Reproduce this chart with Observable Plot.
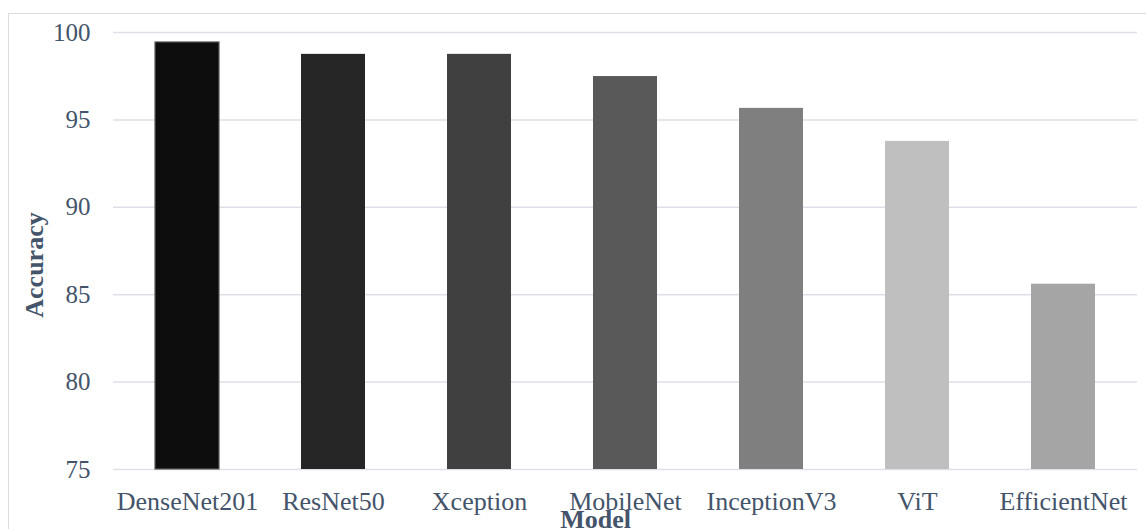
<!DOCTYPE html>
<html>
<head>
<meta charset="utf-8">
<script src="https://cdn.jsdelivr.net/npm/d3@7"></script>
<script src="https://cdn.jsdelivr.net/npm/@observablehq/plot@0.6"></script>
<style>
  html, body { margin: 0; padding: 0; background: #fff; overflow: hidden; }
  #wrap { position: relative; width: 1146px; height: 529px; }
  #border { position: absolute; left: 8px; top: 13px; width: 1200px; height: 600px; border: 1px solid #dcdcdc; box-sizing: border-box; }
  #chart { position: absolute; left: 0; top: 0; }
</style>
</head>
<body>
<div id="wrap"><div id="border"></div><div id="chart"></div></div>
<script>
// Data
const models = ["DenseNet201", "ResNet50", "Xception", "MobileNet", "InceptionV3", "ViT", "EfficientNet"];
const accuracy = [99.43, 98.75, 98.75, 97.48, 95.66, 93.77, 85.6];
const yTicks = [75, 80, 85, 90, 95, 100];

// Styles
const palette = ["#0d0d0d", "#262626", "#404040", "#595959", "#7f7f7f", "#bfbfbf", "#a5a5a5"];
const textColor = "#44546a";
const font = "'Liberation Serif', 'Times New Roman', serif";

const data = models.map((m, i) => ({model: m, acc: accuracy[i]}));

const chart = Plot.plot({
  width: 1146,
  height: 529,
  marginLeft: 113,
  marginRight: 9,
  marginTop: 32,
  marginBottom: 60,
  style: {fontFamily: font, fontSize: "25px", color: textColor, background: "transparent", overflow: "visible"},
  x: {domain: models, paddingInner: 0.56, paddingOuter: 0.28, label: null},
  y: {domain: [75, 100], label: null},
  color: {domain: models, range: palette},
  marks: [
    Plot.ruleY(yTicks, {stroke: "#dde1e7", strokeWidth: 1.5}),
    Plot.barY(data, {x: "model", y1: 75, y2: "acc", fill: "model", stroke: d => d.model === models[0] ? "#5a5a5a" : "none", strokeWidth: 1.2}),
    Plot.axisY(yTicks, {tickSize: 0, tickPadding: 23, label: null, fontSize: 25, fill: textColor}),
    Plot.axisX({tickSize: 0, tickPadding: 22, label: null, fontSize: 26, fill: textColor}),
    Plot.text(["Model"], {frameAnchor: "bottom", text: d => d, dx: -30, dy: 50, lineAnchor: "middle", textAnchor: "middle", fontWeight: "bold", fontSize: 26, fill: textColor}),
    Plot.text(["Accuracy"], {frameAnchor: "left", text: d => d, rotate: -90, dx: -79, dy: 14, lineAnchor: "middle", textAnchor: "middle", fontWeight: "bold", fontSize: 26, fill: textColor})
  ]
});
document.getElementById("chart").appendChild(chart);
</script>
</body>
</html>
